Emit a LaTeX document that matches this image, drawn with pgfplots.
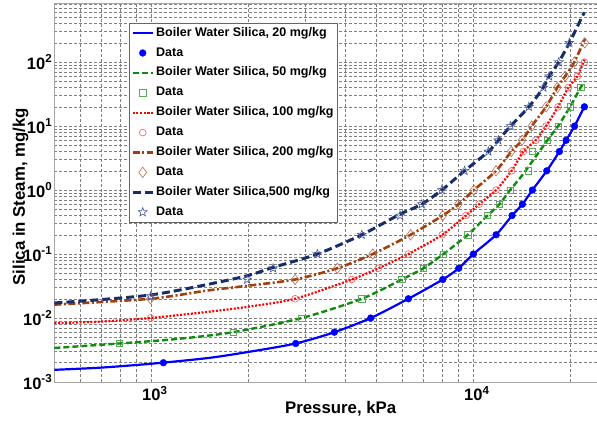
\documentclass[border=0pt]{standalone}
\usepackage{fontspec}
\setmainfont{Liberation Sans}
\usepackage{pgfplots}
\pgfplotsset{compat=1.18}

\pgfdeclareplotmark{ostar}{%
  \pgfpathmoveto{\pgfpointpolar{90}{\pgfplotmarksize}}%
  \pgfpathlineto{\pgfpointpolar{126}{0.42\pgfplotmarksize}}%
  \pgfpathlineto{\pgfpointpolar{162}{\pgfplotmarksize}}%
  \pgfpathlineto{\pgfpointpolar{198}{0.42\pgfplotmarksize}}%
  \pgfpathlineto{\pgfpointpolar{234}{\pgfplotmarksize}}%
  \pgfpathlineto{\pgfpointpolar{270}{0.42\pgfplotmarksize}}%
  \pgfpathlineto{\pgfpointpolar{306}{\pgfplotmarksize}}%
  \pgfpathlineto{\pgfpointpolar{342}{0.42\pgfplotmarksize}}%
  \pgfpathlineto{\pgfpointpolar{18}{\pgfplotmarksize}}%
  \pgfpathlineto{\pgfpointpolar{54}{0.42\pgfplotmarksize}}%
  \pgfpathclose\pgfusepathqstroke}

\definecolor{cblue}{rgb}{0,0,1}
\definecolor{cgreen}{rgb}{0.05,0.55,0.05}
\definecolor{cgreenm}{rgb}{0.35,0.68,0.35}
\definecolor{cred}{rgb}{1,0,0}
\definecolor{credm}{rgb}{1,0.35,0.35}
\definecolor{cbrown}{rgb}{0.63,0.25,0.05}
\definecolor{cbrownm}{rgb}{0.72,0.42,0.32}
\definecolor{cnavy}{rgb}{0.09,0.18,0.42}
\definecolor{cnavym}{rgb}{0.3,0.35,0.6}

\begin{document}
\begin{tikzpicture}
\path[use as bounding box] (-54.4pt,-45pt) rectangle (542.6pt,382pt);
\begin{axis}[
  at={(0,0)}, anchor=south west, scale only axis,
  width=572.6pt, height=378.7pt,
  xmode=log, ymode=log,
  xmin=500, xmax=30000, ymin=1e-3, ymax=830,
  xtick={1000,10000},
  xticklabels={10\rlap{\textsuperscript{3}},10\rlap{\textsuperscript{4}}},
  ytick={1e-3,1e-2,1e-1,1,10,100},
  yticklabels={10\textsuperscript{-3},10\textsuperscript{-2},10\textsuperscript{-1},10\textsuperscript{0},10\textsuperscript{1},10\textsuperscript{2}},
  minor xtick={500,600,700,800,900,2000,3000,4000,5000,6000,7000,8000,9000,20000},
  minor ytick={0.002,0.003,0.004,0.005,0.006,0.007,0.008,0.009,
               0.02,0.03,0.04,0.05,0.06,0.07,0.08,0.09,
               0.2,0.3,0.4,0.5,0.6,0.7,0.8,0.9,
               2,3,4,5,6,7,8,9,
               20,30,40,50,60,70,80,90,
               200,300,400,500,600,700,800},
  grid=both,
  major grid style={black!50, line width=0.5pt, dash pattern=on 3pt off 2pt},
  minor grid style={black!50, line width=0.5pt, dash pattern=on 3pt off 2pt},
  axis line style={black!35, line width=0.8pt},
  major tick length=0pt, minor tick length=0pt,
  ticklabel style={font=\bfseries\fontsize{16.5}{18}\selectfont},
  yticklabel style={inner xsep=2pt},
  xticklabel style={yshift=-1pt},
  xlabel={Pressure, kPa}, ylabel={Silica in Steam, mg/kg},
  every axis x label/.style={at={(axis description cs:0.5,-0.0832)}, anchor=base, font=\bfseries\fontsize{16.8}{18}\selectfont},
  every axis y label/.style={at={(axis description cs:-0.0592,0.489)}, rotate=90, anchor=center, font=\bfseries\fontsize{16.8}{18}\selectfont},
  legend cell align=left,
  legend style={at={(0.1303,0.9488)}, anchor=north west, draw=black!60, fill=white,
    font=\bfseries\fontsize{12.5}{14}\selectfont, inner xsep=2pt, inner ysep=2.5pt, row sep=4.5pt,
    nodes={inner sep=2pt, text height=8.8pt, text depth=2.6pt}},
  legend image code/.code={\draw[mark repeat=2,mark phase=2,#1] plot coordinates {(0pt,0pt) (10pt,0pt) (20pt,0pt)};},
]
% 20 mg/kg
\addplot[cblue, line width=2.2pt, smooth, tension=0.45] coordinates {
 (500,0.00155) (700,0.00168) (1000,0.00193) (1500,0.00237) (2000,0.00295) (2808,0.004) (3701,0.006)
 (4801,0.01) (6283,0.02) (8035,0.04) (9010,0.06) (10000,0.1) (11765,0.2) (13191,0.4)
 (14197,0.6) (15252,1) (16903,2) (18500,4) (19409,6) (20623,10) (22100,20)};
\addlegendentry{Boiler Water Silica, 20 mg/kg}
\addplot[only marks, mark=*, mark size=3.4pt, cblue] coordinates {
 (1090,0.002) (2808,0.004) (3701,0.006) (4801,0.01) (6283,0.02) (8035,0.04) (9010,0.06)
 (10000,0.1) (11765,0.2) (13191,0.4) (14197,0.6) (15252,1) (16903,2) (18500,4) (19409,6)
 (20623,10) (22120,20)};
\addlegendentry{Data}
% 50 mg/kg
\addplot[cgreen, line width=2.4pt, dash pattern=on 6pt off 3pt, smooth, tension=0.45] coordinates {
 (500,0.0034) (797,0.004) (1200,0.0047) (1794,0.006) (2932,0.01) (4503,0.02) (5993,0.04)
 (6993,0.06) (8068,0.1) (9608,0.2) (11068,0.4) (12041,0.6) (13002,1) (14298,1.8)
 (16978,6) (18324,10) (19963,20) (21528,40) (22100,50)};
\addlegendentry{Boiler Water Silica, 50 mg/kg}
\addplot[only marks, mark=square, mark size=3.2pt, cgreenm, mark options={line width=0.6pt}] coordinates {
 (797,0.004) (1794,0.006) (2932,0.01) (4503,0.02) (5993,0.04) (6993,0.06) (8068,0.1)
 (9608,0.2) (11068,0.4) (12041,0.6) (13002,1) (14820,2) (15220,4) (16978,6) (18324,10)
 (19963,20) (21528,40)};
\addlegendentry{Data}
% 100 mg/kg
\addplot[cred, line width=2.2pt, dash pattern=on 2pt off 1.6pt, smooth, tension=0.45] coordinates {
 (500,0.0083) (700,0.0088) (994,0.01) (1500,0.0125) (2000,0.015) (2795,0.02) (4192,0.04)
 (5070,0.06) (6282,0.1) (8006,0.2) (9490,0.4) (10416,0.6) (11765,1) (13143,2) (14298,4)
 (15622,6) (16820,10) (18324,20) (19725,40) (21038,60) (22150,110)};
\addlegendentry{Boiler Water Silica, 100 mg/kg}
\addplot[only marks, mark=o, mark size=3.4pt, credm, mark options={line width=0.6pt}] coordinates {
 (994,0.01) (2795,0.02) (4192,0.04) (5070,0.06) (6282,0.1) (8006,0.2) (9490,0.4)
 (10416,0.6) (11765,1) (13143,2) (14298,4) (15622,6) (16820,10) (18324,20) (19725,40)
 (21038,60) (22120,100)};
\addlegendentry{Data}
% 200 mg/kg
\addplot[cbrown, line width=2.6pt, dash pattern=on 7pt off 2.5pt on 2pt off 2.5pt, smooth, tension=0.45] coordinates {
 (500,0.0162) (994,0.02) (1500,0.027) (2000,0.032) (2795,0.04) (3781,0.06) (4870,0.1)
 (6383,0.2) (8035,0.4) (8982,0.6) (10037,1) (11765,2) (13114,4) (14166,6) (15183,10)
 (16820,20) (18222,40) (19267,60) (20580,100) (22200,230)};
\addlegendentry{Boiler Water Silica, 200 mg/kg}
\addplot[only marks, mark=diamond, mark size=5.2pt, cbrownm, mark options={line width=0.6pt}] coordinates {
 (994,0.02) (2795,0.04) (3781,0.06) (4870,0.1) (6383,0.2) (8035,0.4) (8982,0.6)
 (10037,1) (11765,2) (13114,4) (14166,6) (15183,10) (16820,20) (18222,40) (19267,60)
 (20580,100) (22182,200)};
\addlegendentry{Data}
% 500 mg/kg
\addplot[cnavy, line width=3pt, dash pattern=on 8pt off 4pt, smooth, tension=0.45] coordinates {
 (500,0.0172) (1000,0.023) (1886,0.043) (2393,0.062) (3278,0.1) (4503,0.2) (5921,0.42)
 (6915,0.6) (7978,1) (9391,2) (11133,4) (11957,6) (13049,10) (14873,20) (16499,40)
 (17184,60) (18417,100) (19864,200) (22100,600)};
\addlegendentry{Boiler Water Silica,500 mg/kg}
\addplot[only marks, mark=ostar, mark size=4.6pt, cnavym, mark options={line width=0.6pt}] coordinates {
 (996,0.022) (1983,0.04) (2388,0.06) (3278,0.1) (4503,0.2) (5921,0.4) (6915,0.6)
 (7978,1) (9391,2) (11133,4) (11957,6) (13049,10) (14873,20) (16499,40) (17184,60)
 (18417,100) (19864,200)};
\addlegendentry{Data}
\end{axis}
\end{tikzpicture}
\end{document}
